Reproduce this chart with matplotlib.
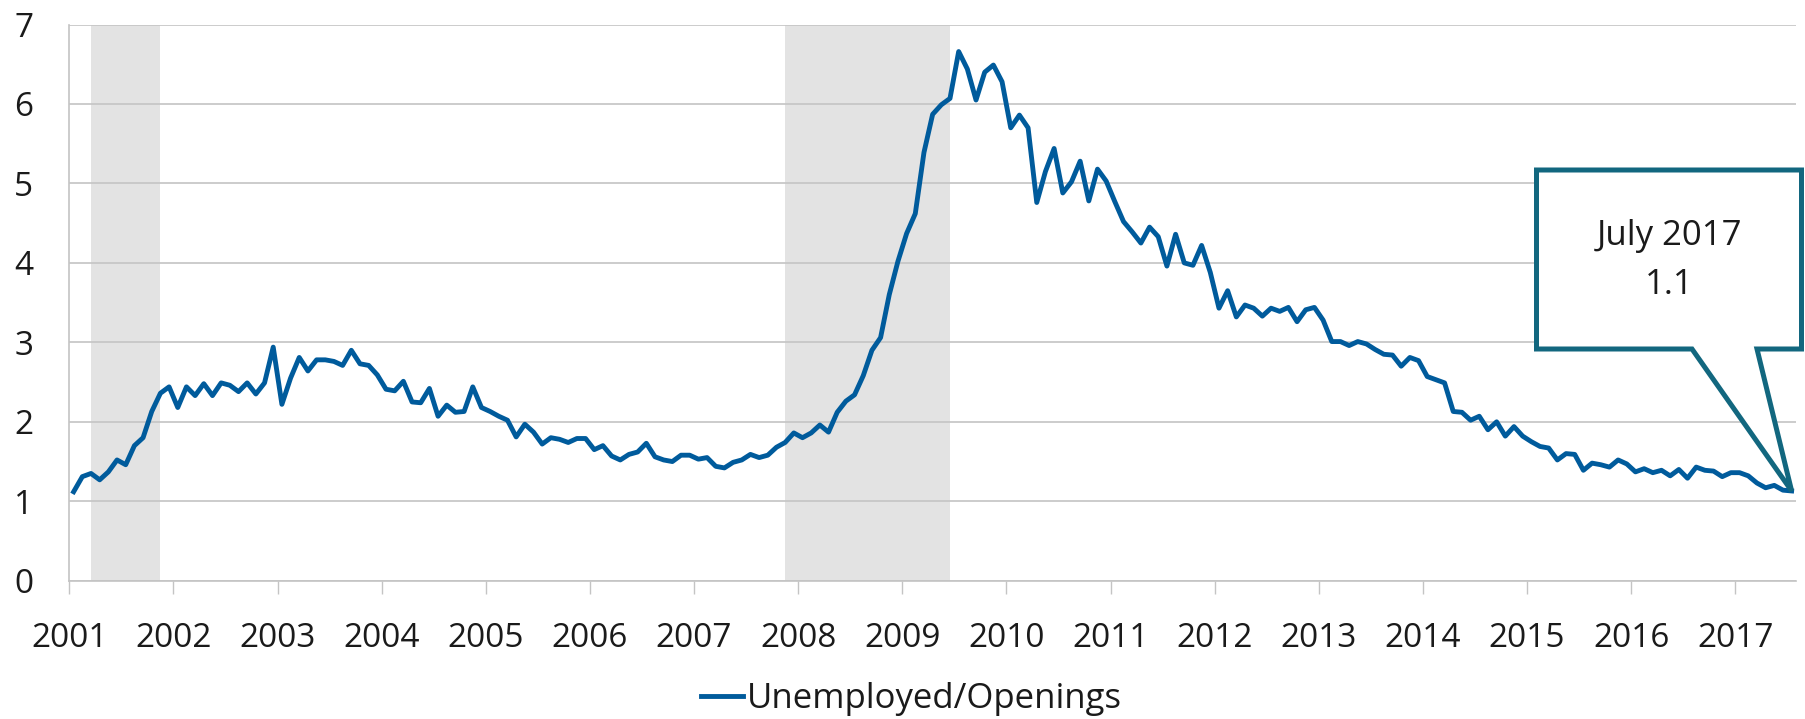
import numpy as np
import matplotlib
matplotlib.use('Agg')
import matplotlib.pyplot as plt
from matplotlib.patches import Polygon

plt.rcParams['font.family'] = ['Open Sans', 'DejaVu Sans']

# Monthly ratio of unemployed persons to job openings, Jan 2001 - Jul 2017
start_year = 2001
ratio = [
    1.12, 1.31, 1.35, 1.27, 1.37, 1.52, 1.46, 1.70, 1.80, 2.13, 2.36, 2.44,  # 2001
    2.18, 2.44, 2.33, 2.48, 2.33, 2.49, 2.46, 2.38, 2.49, 2.35, 2.49, 2.94,  # 2002
    2.22, 2.55, 2.81, 2.64, 2.78, 2.78, 2.76, 2.71, 2.90, 2.73, 2.71, 2.59,  # 2003
    2.41, 2.39, 2.51, 2.25, 2.24, 2.42, 2.07, 2.21, 2.12, 2.13, 2.44, 2.18,  # 2004
    2.13, 2.07, 2.02, 1.81, 1.97, 1.87, 1.72, 1.80, 1.78, 1.74, 1.79, 1.79,  # 2005
    1.65, 1.70, 1.57, 1.52, 1.59, 1.62, 1.73, 1.56, 1.52, 1.50, 1.58, 1.58,  # 2006
    1.53, 1.55, 1.44, 1.42, 1.49, 1.52, 1.59, 1.55, 1.58, 1.68, 1.74, 1.86,  # 2007
    1.80, 1.86, 1.96, 1.87, 2.12, 2.26, 2.34, 2.58, 2.90, 3.06, 3.60, 4.02,  # 2008
    4.37, 4.62, 5.39, 5.87, 5.99, 6.07, 6.66, 6.44, 6.05, 6.40, 6.49, 6.28,  # 2009
    5.70, 5.86, 5.70, 4.76, 5.15, 5.44, 4.88, 5.02, 5.28, 4.78, 5.18, 5.03,  # 2010
    4.77, 4.52, 4.39, 4.25, 4.45, 4.33, 3.96, 4.36, 4.00, 3.97, 4.22, 3.88,  # 2011
    3.43, 3.65, 3.32, 3.47, 3.43, 3.33, 3.43, 3.39, 3.44, 3.26, 3.41, 3.44,  # 2012
    3.28, 3.01, 3.01, 2.96, 3.01, 2.98, 2.91, 2.85, 2.84, 2.70, 2.81, 2.77,  # 2013
    2.57, 2.53, 2.49, 2.13, 2.12, 2.02, 2.07, 1.90, 2.00, 1.82, 1.94, 1.82,  # 2014
    1.75, 1.69, 1.67, 1.52, 1.60, 1.59, 1.39, 1.48, 1.46, 1.43, 1.52, 1.47,  # 2015
    1.37, 1.41, 1.36, 1.39, 1.32, 1.40, 1.29, 1.43, 1.39, 1.38, 1.31, 1.36,  # 2016
    1.36, 1.32, 1.23, 1.17, 1.20, 1.14, 1.13,                                # 2017
]

# Recessions (decimal years): Mar-Nov 2001, Dec 2007-Jun 2009
recessions = [(2001 + 2.5 / 12, 2001 + 10.5 / 12), (2007 + 10.5 / 12, 2009 + 5.5 / 12)]
year_ticks = list(range(2001, 2018))
callout_lines = ['July 2017', '1.1']

# month midpoints as decimal years
x = start_year + (np.arange(len(ratio)) + 0.5) / 12

fig = plt.figure(figsize=(18.05, 7.19), dpi=100)
ax = fig.add_axes([0.0384, 0.1923, 0.9566, 0.7736])

for a, b in recessions:
    ax.axvspan(a, b, color='#e3e3e3', lw=0, zorder=0)

ax.plot(x, ratio, color='#005b9c', lw=3.5, solid_joinstyle='round',
        label='Unemployed/Openings', zorder=3)

ax.set_xlim(start_year, start_year + len(ratio) / 12)
ax.set_ylim(0, 7)
ax.set_yticks(range(0, 8))
ax.set_xticks(year_ticks)
ax.grid(axis='y', color='#c4c4c4', lw=1.2, zorder=1)
ax.set_axisbelow(False)
for s in ['top', 'right']:
    ax.spines[s].set_visible(False)
for s in ['left', 'bottom']:
    ax.spines[s].set_color('#c4c4c4')
    ax.spines[s].set_linewidth(1.2)
ax.tick_params(axis='y', length=0, pad=26, labelsize=24, colors='#1a1a1a')
ax.tick_params(axis='x', length=9, width=1, color='#c4c4c4', pad=21,
               labelsize=24, labelcolor='#1a1a1a')

# callout box with pointer to the last observation
fig.canvas.draw()
to_fig = fig.transFigure.inverted()
tip = to_fig.transform(ax.transData.transform((x[-1], ratio[-1])))
W, H = 1805, 719
def fp(px, py):
    return (px / W, 1 - py / H)
verts = [fp(1536.5, 170), fp(1801.5, 170), fp(1801.5, 349), fp(1757, 349),
         tuple(tip), fp(1692, 349), fp(1536.5, 349)]
box = Polygon(verts, closed=True, transform=fig.transFigure, facecolor='white',
              edgecolor='#12677f', lw=3.6, joinstyle='miter', clip_on=False, zorder=5)
fig.patches.append(box)
fig.text(1669 / W, 1 - 236 / H, callout_lines[0], ha='center', va='center',
         fontsize=25, color='#1a1a1a', zorder=6)
fig.text(1669 / W, 1 - 285 / H, callout_lines[1], ha='center', va='center',
         fontsize=25, color='#1a1a1a', zorder=6)

fig.legend(loc='center', bbox_to_anchor=(0.505, 0.028), frameon=False,
           fontsize=25, handlelength=1.2, handletextpad=0.1, labelcolor='#1a1a1a')

fig.savefig('out.png', dpi=100)
